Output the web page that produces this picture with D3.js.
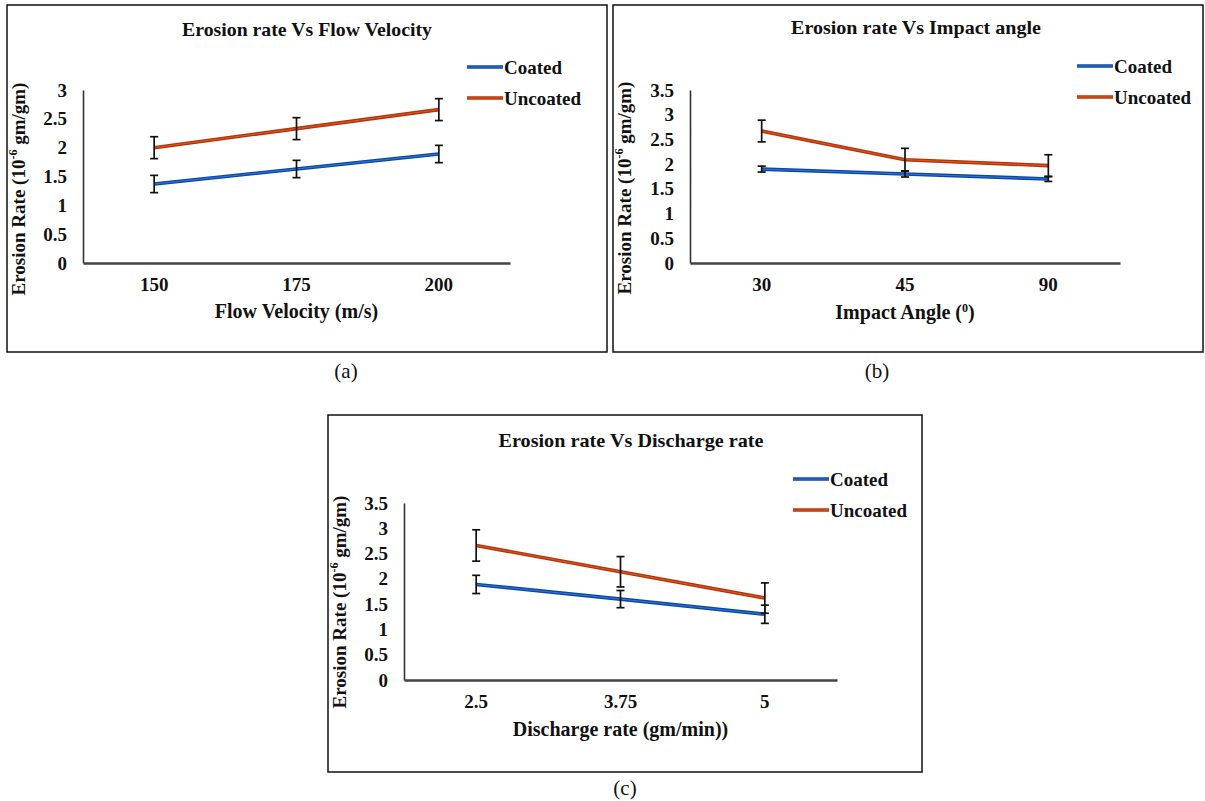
<!DOCTYPE html>
<html>
<head>
<meta charset="utf-8">
<script src="https://cdn.jsdelivr.net/npm/d3@7"></script>
<style>
  body { margin: 0; background: #fff; }
  svg text { font-family: "Liberation Serif", "Times New Roman", serif; fill: #111; }
</style>
</head>
<body>
<svg id="chart" width="1205" height="801"></svg>
<script>
// ---- data ----
const seriesNames = ["Coated", "Uncoated"];

const velocityCats = ["150", "175", "200"];
const velocityCoated = [1.37, 1.63, 1.89];
const velocityCoatedErr = [0.15, 0.15, 0.15];
const velocityUncoated = [2.0, 2.33, 2.66];
const velocityUncoatedErr = [0.19, 0.19, 0.19];
const velocityTicks = [0, 0.5, 1, 1.5, 2, 2.5, 3];
const velocityTickLabels = ["0", "0.5", "1", "1.5", "2", "2.5", "3"];

const angleCats = ["30", "45", "90"];
const angleCoated = [1.90, 1.80, 1.70];
const angleCoatedErr = [0.06, 0.06, 0.05];
const angleUncoated = [2.67, 2.09, 1.97];
const angleUncoatedErr = [0.22, 0.23, 0.22];
const angleTicks = [0, 0.5, 1, 1.5, 2, 2.5, 3, 3.5];
const angleTickLabels = ["0", "0.5", "1", "1.5", "2", "2.5", "3", "3.5"];

const dischargeCats = ["2.5", "3.75", "5"];
const dischargeCoated = [1.89, 1.60, 1.30];
const dischargeCoatedErr = [0.18, 0.17, 0.18];
const dischargeUncoated = [2.66, 2.14, 1.62];
const dischargeUncoatedErr = [0.31, 0.30, 0.30];
const dischargeTicks = [0, 0.5, 1, 1.5, 2, 2.5, 3, 3.5];
const dischargeTickLabels = ["0", "0.5", "1", "1.5", "2", "2.5", "3", "3.5"];

// line colours: outer stroke + light inner highlight
const colors = [
  {outer: "#0d45a5", inner: "#3d9be8"},
  {outer: "#b5300d", inner: "#f0781e"}
];

var svg = d3.select("#chart");

function drawPanel(p) {
  var g = svg.append("g");

  // frame
  g.append("rect")
    .attr("x", p.box[0]).attr("y", p.box[1])
    .attr("width", p.box[2]).attr("height", p.box[3])
    .attr("fill", "none").attr("stroke", "#111").attr("stroke-width", 1.5);

  var x = d3.scaleBand().domain(p.cats).range([p.plot[0], p.plot[1]]);
  var y = d3.scaleLinear().domain([0, d3.max(p.ticks)]).range([p.plot[3], p.plot[2]]);
  var cx = d => x(d) + x.bandwidth() / 2;

  // y axis
  var yAxis = g.append("g")
    .attr("transform", "translate(" + p.plot[0] + ",0)")
    .call(d3.axisLeft(y).tickValues(p.ticks).tickSize(0).tickPadding(16)
      .tickFormat((d, i) => p.tickLabels[i]));
  yAxis.select(".domain").attr("stroke", "#333").attr("stroke-width", 1.6);
  yAxis.selectAll("text")
    .attr("font-size", 19).attr("font-weight", 700).attr("fill", "#111");

  // x axis
  var xAxis = g.append("g")
    .attr("transform", "translate(0," + p.plot[3] + ")")
    .call(d3.axisBottom(x).tickSize(0).tickSizeOuter(0).tickPadding(15));
  xAxis.select(".domain").attr("stroke", "#444").attr("stroke-width", 2.5);
  xAxis.selectAll("text")
    .attr("font-size", 19).attr("font-weight", 700).attr("fill", "#111");

  // series
  p.series.forEach(function(s, si) {
    var line = d3.line().x((d, i) => cx(p.cats[i])).y(d => y(d));
    g.append("path").datum(s.values)
      .attr("d", line).attr("fill", "none")
      .attr("stroke", colors[si].outer).attr("stroke-width", 3.6);
    g.append("path").datum(s.values)
      .attr("d", line).attr("fill", "none")
      .attr("stroke", colors[si].inner).attr("stroke-width", 0.9).attr("opacity", 0.7);
  });

  // error bars on top
  p.series.forEach(function(s) {
    s.values.forEach(function(v, i) {
      var xc = cx(p.cats[i]);
      var eb = g.append("g").attr("stroke", "#111").attr("stroke-width", 1.7);
      eb.append("line").attr("x1", xc).attr("x2", xc)
        .attr("y1", y(v + s.err[i])).attr("y2", y(v - s.err[i]));
      eb.append("line").attr("x1", xc - 4).attr("x2", xc + 4)
        .attr("y1", y(v + s.err[i])).attr("y2", y(v + s.err[i]));
      eb.append("line").attr("x1", xc - 4).attr("x2", xc + 4)
        .attr("y1", y(v - s.err[i])).attr("y2", y(v - s.err[i]));
    });
  });

  // title
  g.append("text")
    .attr("x", p.title[1]).attr("y", p.title[2])
    .attr("text-anchor", "middle")
    .attr("font-size", 19).attr("font-weight", 700)
    .attr("textLength", p.title[3]).attr("lengthAdjust", "spacingAndGlyphs")
    .text(p.title[0]);

  // legend
  seriesNames.forEach(function(name, i) {
    var ly = p.legend[1] + i * 31;
    g.append("line")
      .attr("x1", p.legend[0]).attr("x2", p.legend[0] + 36)
      .attr("y1", ly).attr("y2", ly)
      .attr("stroke", colors[i].outer).attr("stroke-width", 3.6);
    g.append("line")
      .attr("x1", p.legend[0]).attr("x2", p.legend[0] + 36)
      .attr("y1", ly).attr("y2", ly)
      .attr("stroke", colors[i].inner).attr("stroke-width", 0.9).attr("opacity", 0.7);
    g.append("text")
      .attr("x", p.legend[0] + 37).attr("y", ly).attr("dy", "0.35em")
      .attr("font-size", 19).attr("font-weight", 700)
      .text(name);
  });

  // x axis title
  var xt = g.append("text")
    .attr("x", (p.plot[0] + p.plot[1]) / 2).attr("y", p.xTitle[1])
    .attr("text-anchor", "middle")
    .attr("font-size", 20).attr("font-weight", 700);
  xt.append("tspan").text(p.xTitle[0]);
  if (p.xTitle[2]) {
    xt.append("tspan").attr("font-size", 12).attr("dy", -7).text(p.xTitle[2]);
    xt.append("tspan").attr("dy", 7).text(")");
  }

  // y axis title
  var yt = g.append("text")
    .attr("transform", "translate(" + p.yTitle[0] + "," + p.yTitle[1] + ") rotate(-90)")
    .attr("text-anchor", "middle")
    .attr("font-size", 19).attr("font-weight", 700);
  yt.append("tspan").text("Erosion Rate (10");
  yt.append("tspan").attr("font-size", 12).attr("dy", -8).text("-6");
  yt.append("tspan").attr("dy", 8).text(" gm/gm)");

  // caption
  svg.append("text")
    .attr("x", p.caption[1]).attr("y", p.caption[2])
    .attr("text-anchor", "middle")
    .attr("font-size", 21)
    .text(p.caption[0]);
}

drawPanel({
  box: [7, 5, 600, 347],
  plot: [83, 510, 90, 263],
  cats: velocityCats, ticks: velocityTicks, tickLabels: velocityTickLabels,
  series: [
    {values: velocityCoated, err: velocityCoatedErr},
    {values: velocityUncoated, err: velocityUncoatedErr}
  ],
  title: ["Erosion rate Vs Flow Velocity", 307, 36, 250],
  legend: [467, 67],
  xTitle: ["Flow Velocity (m/s)", 318],
  yTitle: [25, 189],
  caption: ["(a)", 346, 378]
});

drawPanel({
  box: [613, 5, 590, 347],
  plot: [690, 1120, 90, 263],
  cats: angleCats, ticks: angleTicks, tickLabels: angleTickLabels,
  series: [
    {values: angleCoated, err: angleCoatedErr},
    {values: angleUncoated, err: angleUncoatedErr}
  ],
  title: ["Erosion rate Vs Impact angle", 916, 34, 250],
  legend: [1077, 66],
  xTitle: ["Impact Angle (", 319, "0"],
  yTitle: [631, 188],
  caption: ["(b)", 877, 378]
});

drawPanel({
  box: [328, 415, 594, 357],
  plot: [404, 837, 503, 680],
  cats: dischargeCats, ticks: dischargeTicks, tickLabels: dischargeTickLabels,
  series: [
    {values: dischargeCoated, err: dischargeCoatedErr},
    {values: dischargeUncoated, err: dischargeUncoatedErr}
  ],
  title: ["Erosion rate Vs Discharge rate", 631, 447, 265],
  legend: [793, 479],
  xTitle: ["Discharge rate (gm/min))", 736],
  yTitle: [346, 602],
  caption: ["(c)", 625, 795]
});
</script>
</body>
</html>
